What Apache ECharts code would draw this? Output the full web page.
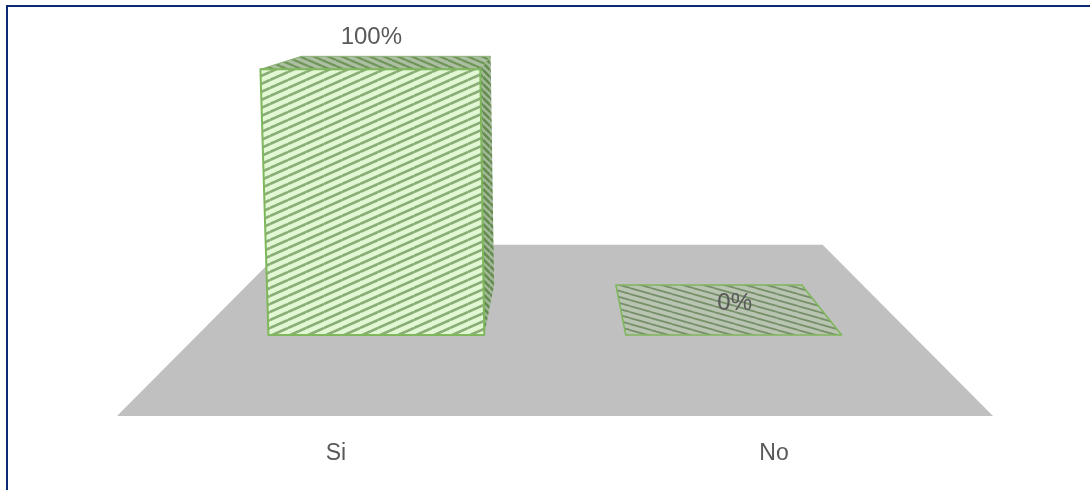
<!DOCTYPE html>
<html>
<head>
<meta charset="utf-8">
<style>html,body{margin:0;padding:0;background:#fff}#chart{width:1090px;height:490px}</style>
<script src="https://cdn.jsdelivr.net/npm/echarts@6/dist/echarts.min.js"></script>
</head>
<body>
<div id="chart"></div>
<script>
const categories = ['Si', 'No'];
const percentValues = [100, 0];
const axisMin = -30.5;
const axisMax = 105;

// Perspective of the 3D floor and bars
const VANISH_Y = -24;
const FLOOR_BACK_RATIO = 0.611;
const BAR_BACK_RATIO = 0.861;
const BAR_HALF_BAND = 0.302;
const LEAN_X = 700, LEAN = 0.0185;

function hatch(bg, stripe, w, h, falling, lw) {
  const c = document.createElement('canvas');
  c.width = w; c.height = h;
  const g = c.getContext('2d');
  g.fillStyle = bg; g.fillRect(0, 0, w, h);
  g.strokeStyle = stripe; g.lineWidth = lw;
  for (let k = -1; k <= 1; k++) {
    g.beginPath();
    if (falling) { g.moveTo(0, k * h); g.lineTo(w, (k + 1) * h); }
    else { g.moveTo(0, (k + 1) * h); g.lineTo(w, k * h); }
    g.stroke();
  }
  return { image: c, repeat: 'repeat' };
}
const frontFill = hatch('#e2f7d3', '#8aad76', 18, 8, false, 2.6);
const topFill = hatch('#adbfa2', '#6f9558', 14, 6, true, 2.2);
const tileFill = hatch('#bac4b2', '#76906a', 21, 6, true, 1.8);
const sideFill = hatch('#a4b89a', '#648c4e', 7, 7, true, 2.6);
const EDGE = '#7fb75c';

function renderFloor(params, api) {
  const cs = params.coordSys;
  const cx = cs.x + cs.width / 2, by = cs.y + cs.height;
  const back = x => cx + (x - cx) * FLOOR_BACK_RATIO;
  const backY = VANISH_Y + (by - VANISH_Y) * FLOOR_BACK_RATIO;
  return {
    type: 'polygon',
    shape: { points: [[back(cs.x), backY], [back(cs.x + cs.width), backY], [cs.x + cs.width, by], [cs.x, by]] },
    style: { fill: '#c0c0c0' }
  };
}

function renderBar(params, api) {
  const cs = params.coordSys;
  const vx = cs.x + cs.width / 2;
  const by = cs.y + cs.height;
  const p = api.coord([api.value(0), 0]);
  const t = api.coord([api.value(0), api.value(1)]);
  const band = api.size([1, 0])[0];
  const scale = (p[1] - VANISH_Y) / (by - VANISH_Y);
  const cx = vx + (p[0] - vx) * scale;
  const hw = band * BAR_HALF_BAND * scale;
  const frac = (p[1] - t[1]) / (p[1] - api.coord([0, 100])[1]);
  const lean = x => x + (x - LEAN_X) * LEAN * frac;
  const bl = [cx - hw, p[1]], br = [cx + hw, p[1]];
  const tl = [lean(cx - hw), t[1]], tr = [lean(cx + hw), t[1]];
  const back = q => [vx + (q[0] - vx) * BAR_BACK_RATIO, VANISH_Y + (q[1] - VANISH_Y) * BAR_BACK_RATIO];
  const raised = t[1] < p[1];
  const children = [];
  const face = (pts, fill, stroke, lw) => children.push({
    type: 'polygon', shape: { points: pts },
    style: { fill: fill, stroke: stroke, lineWidth: lw, lineJoin: 'round' }
  });
  if (raised) {
    const near = cx < vx ? [br, tr] : [bl, tl];
    face([near[0], near[1], back(near[1]), back(near[0])], sideFill, null, 0);
    face([tl, back(tl), back(tr), tr], topFill, '#8fb57a', 1);
    face([bl, tl, tr, br], frontFill, EDGE, 2);
  } else {
    face([tl, back(tl), back(tr), tr], tileFill, EDGE, 1.6);
  }
  children.push({
    type: 'text',
    style: {
      text: api.value(1) + '%', x: (tl[0] + tr[0]) / 2 + 1, y: t[1] - 32,
      align: 'center', verticalAlign: 'middle',
      fill: '#595959', font: '24px "Liberation Sans", Arial, sans-serif'
    }
  });
  return { type: 'group', children: children };
}

const chart = echarts.init(document.getElementById('chart'), null, { renderer: 'canvas' });
chart.setOption({
  animation: false,
  backgroundColor: '#ffffff',
  grid: { left: 117, width: 876, top: 56, height: 360 },
  xAxis: {
    type: 'category', data: categories,
    axisLine: { show: false }, axisTick: { show: false }, splitLine: { show: false },
    axisLabel: { color: '#595959', fontSize: 23, fontFamily: '"Liberation Sans", Arial, sans-serif', margin: 26 }
  },
  yAxis: { type: 'value', min: axisMin, max: axisMax, show: false, splitLine: { show: false } },
  graphic: [
    { type: 'rect', shape: { x: 6, y: 5, width: 1084, height: 2 }, style: { fill: '#0c2a74' } },
    { type: 'rect', shape: { x: 6, y: 5, width: 2, height: 485 }, style: { fill: '#0c2a74' } }
  ],
  series: [
    { type: 'custom', name: 'floor', coordinateSystem: 'cartesian2d', clip: false, z: 1, renderItem: renderFloor, data: [[0, 0]], silent: true },
    { type: 'custom', name: 'bars', coordinateSystem: 'cartesian2d', clip: false, z: 2, renderItem: renderBar,
      encode: { x: 0, y: 1 },
      data: categories.map((c, i) => [i, percentValues[i]]) }
  ]
});
</script>
</body>
</html>
